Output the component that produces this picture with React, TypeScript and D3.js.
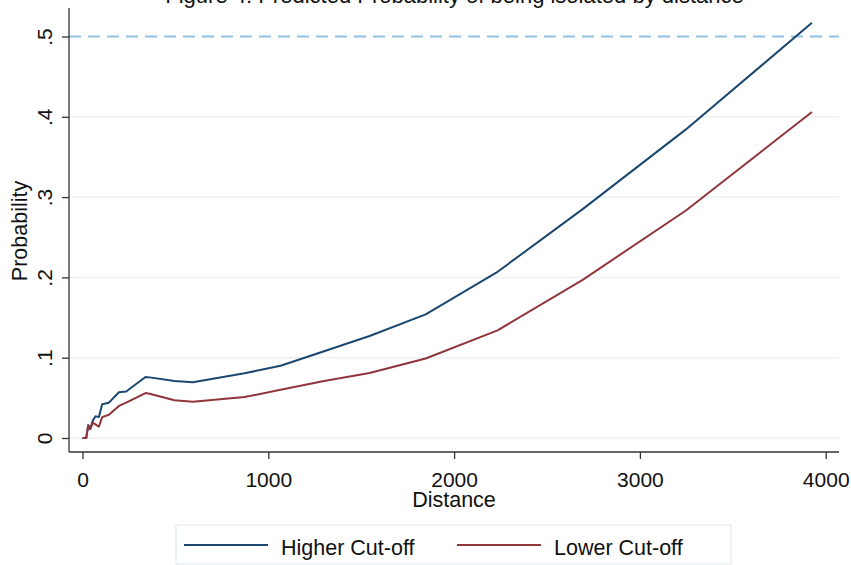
import * as d3 from 'd3'
import { useEffect, useRef } from 'react'

// distance points (shared by both series) and predicted probabilities
const distance = [0, 20, 31, 41, 56, 70, 88, 106, 142, 196, 235, 339, 361, 495, 594, 872, 1066, 1300, 1545, 1847, 2234, 2692, 3246, 3926]
const higherCutoff = [0, 0, 0.016, 0.011, 0.022, 0.027, 0.026, 0.042, 0.044, 0.057, 0.058, 0.076, 0.0755, 0.071, 0.0694, 0.0806, 0.09, 0.108, 0.127, 0.154, 0.207, 0.285, 0.384, 0.517]
const lowerCutoff = [0, 0, 0.016, 0.011, 0.019, 0.017, 0.014, 0.026, 0.029, 0.04, 0.044, 0.056, 0.055, 0.047, 0.045, 0.051, 0.06, 0.071, 0.081, 0.099, 0.134, 0.197, 0.283, 0.406]
const xTicks = [0, 1000, 2000, 3000, 4000]
const yTicks = [0, 0.1, 0.2, 0.3, 0.4, 0.5]
const seriesNames = ['Higher Cut-off', 'Lower Cut-off']
const seriesColors = ['#1a476f', '#90353b']
const refLine = 0.5

export default function App() {
    const svgRef = useRef(null)
    const width = 851, height = 565
    const font = '"Liberation Sans", Arial, sans-serif'

    useEffect(() => {
        const svg = d3.select(svgRef.current)
        svg.selectAll('*').remove()

        const plotLeft = 69, plotRight = 839, plotTop = 8, plotBottom = 452

        const x = d3.scaleLinear().domain([0, 4000]).range([82.5, 825.7])
        const y = d3.scaleLinear().domain([0, 0.5]).range([438, 36.5])

        svg.append('rect').attr('width', width).attr('height', height).attr('fill', 'white')

        // title, cut at the top edge as in the source
        svg.append('text')
            .attr('x', 454.5).attr('y', 3)
            .attr('text-anchor', 'middle')
            .style('font', `22px ${font}`)
            .attr('fill', '#111')
            .text('Figure 4: Predicted Probability of being isolated by distance')

        // grid
        svg.append('g').selectAll('line')
            .data(yTicks.filter(d => d !== refLine))
            .join('line')
                .attr('x1', plotLeft).attr('x2', plotRight)
                .attr('y1', d => y(d)).attr('y2', d => y(d))
                .attr('stroke', '#eaf1f3')
                .attr('stroke-width', 1.5)

        // reference line at .5
        svg.append('line')
            .attr('x1', plotLeft).attr('x2', plotRight)
            .attr('y1', y(refLine)).attr('y2', y(refLine))
            .attr('stroke', '#8fc3e6')
            .attr('stroke-width', 2)
            .attr('stroke-dasharray', '12,7')

        // y axis
        const yAxis = d3.axisLeft(y)
            .tickValues(yTicks)
            .tickSize(7)
            .tickSizeOuter(0)
            .tickFormat(d => d === 0 ? '0' : '.' + Math.round(+d * 10))
        svg.append('g')
            .attr('transform', `translate(${plotLeft},0)`)
            .call(yAxis)
            .call(g => g.select('.domain').remove())
            .call(g => g.selectAll('.tick line').attr('stroke', '#333').attr('stroke-width', 1.3))
            .call(g => g.selectAll('.tick text')
                .attr('transform', 'rotate(-90)')
                .attr('x', 0).attr('y', -17).attr('dy', 0)
                .attr('text-anchor', 'middle')
                .attr('fill', '#111')
                .style('font', `21px ${font}`))
        svg.append('line')
            .attr('x1', plotLeft).attr('x2', plotLeft)
            .attr('y1', plotTop).attr('y2', plotBottom)
            .attr('stroke', '#333').attr('stroke-width', 1.3)

        // x axis
        const xAxis = d3.axisBottom(x).tickValues(xTicks).tickSize(7).tickSizeOuter(0).tickFormat(d3.format('d'))
        svg.append('g')
            .attr('transform', `translate(0,${plotBottom})`)
            .call(xAxis)
            .call(g => g.select('.domain').remove())
            .call(g => g.selectAll('.tick line').attr('stroke', '#333').attr('stroke-width', 1.3))
            .call(g => g.selectAll('.tick text')
                .attr('y', 35).attr('dy', 0)
                .attr('fill', '#111')
                .style('font', `21px ${font}`))
        svg.append('line')
            .attr('x1', plotLeft).attr('x2', plotRight)
            .attr('y1', plotBottom).attr('y2', plotBottom)
            .attr('stroke', '#333').attr('stroke-width', 1.3)

        // axis titles
        svg.append('text')
            .attr('x', 454).attr('y', 507)
            .attr('text-anchor', 'middle')
            .attr('fill', '#111')
            .style('font', `21.5px ${font}`)
            .text('Distance')
        svg.append('text')
            .attr('transform', 'translate(27,231) rotate(-90)')
            .attr('text-anchor', 'middle')
            .attr('fill', '#111')
            .style('font', `21.5px ${font}`)
            .text('Probability')

        // lines
        const line = d3.line<number>()
            .x((d, i) => x(distance[i]))
            .y(d => y(d))
        const series = [higherCutoff, lowerCutoff]
        svg.append('g').selectAll('path')
            .data(series)
            .join('path')
                .attr('d', d => line(d))
                .attr('fill', 'none')
                .attr('stroke', (d, i) => seriesColors[i])
                .attr('stroke-width', 2)
                .attr('stroke-linejoin', 'round')

        // legend
        const legend = svg.append('g')
        legend.append('rect')
            .attr('x', 176).attr('y', 525)
            .attr('width', 555).attr('height', 39)
            .attr('fill', 'white')
            .attr('stroke', '#e3ecee')
            .attr('stroke-width', 1.3)
        const legendX = [184, 457]
        seriesNames.forEach((name, i) => {
            legend.append('line')
                .attr('x1', legendX[i]).attr('x2', legendX[i] + 84)
                .attr('y1', 545).attr('y2', 545)
                .attr('stroke', seriesColors[i])
                .attr('stroke-width', 2)
            legend.append('text')
                .attr('x', legendX[i] + 97).attr('y', 555)
                .attr('fill', '#111')
                .style('font', `21.5px ${font}`)
                .text(name)
        })
    }, [])

    return (
        <div style={{ position: 'absolute', left: 0, top: 0 }}>
            <svg ref={svgRef} width={width} height={height} style={{ display: 'block' }} />
        </div>
    )
}
